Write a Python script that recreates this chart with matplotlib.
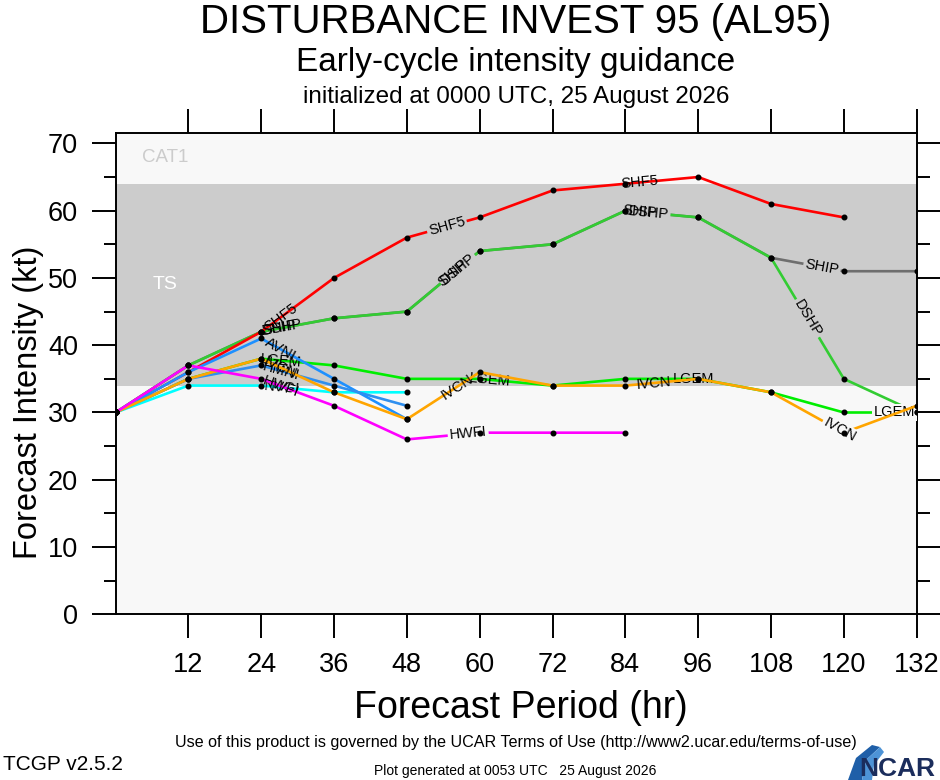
import numpy as np
import matplotlib
matplotlib.use("Agg")
import matplotlib.pyplot as plt
from matplotlib.patches import Polygon

# ---------------- data ----------------
hours = [0, 12, 24, 36, 48, 60, 72, 84, 96, 108, 120, 132]
x_ticks = [12, 24, 36, 48, 60, 72, 84, 96, 108, 120, 132]
y_ticks = [0, 10, 20, 30, 40, 50, 60, 70]

ship = [30, 37, 42, 44, 45, 54, 55, 60, 59, 53, 51, 51]
dshp = [30, 37, 42, 44, 45, 54, 55, 60, 59, 53, 35, 30]
shf5 = [30, 36, 42, 50, 56, 59, 63, 64, 65, 61, 59]
lgem = [30, 35, 38, 37, 35, 35, 34, 35, 35, 33, 30, 30]
nvgi = [30, 34, 34, 33, 33]
avni = [30, 36, 41, 35, 29]
hmni = [30, 35, 37, 34, 31]
ivcn = [30, 35, 38, 33, 29, 36, 34, 34, 35, 33, 27, 31]
hwfi = [30, 37, 35, 31, 26, 27, 27, 27]

series = [
    ("SHIP", ship, "#6e6e6e"),
    ("DSHP", dshp, "#33cc33"),
    ("SHF5", shf5, "#ff0000"),
    ("LGEM", lgem, "#00ee00"),
    ("NVGI", nvgi, "#00ffff"),
    ("AVNI", avni, "#1e90ff"),
    ("HMNI", hmni, "#2f8fef"),
    ("IVCN", ivcn, "#ffa500"),
    ("HWFI", hwfi, "#ff00ff"),
]

# hours at which each model's name is written on its line
label_hours = {
    "SHIP": [27.0, 55.6, 86.4, 116.4],
    "DSHP": [27.5, 56.4, 87.8, 114.0],
    "SHF5": [27.2, 54.6, 86.4],
    "LGEM": [27.2, 61.6, 95.2, 128.3],
    "NVGI": [27.4],
    "AVNI": [27.2],
    "HMNI": [27.3],
    "IVCN": [27.2, 56.3, 88.6, 119.3],
    "HWFI": [27.3, 58.1],
}

ts_thresh = 34
cat1_thresh = 64
ymax = 71.5

# ---------------- figure ----------------
plt.rcParams["font.family"] = ["Liberation Sans", "DejaVu Sans"]
fig = plt.figure(figsize=(9.4, 7.8), dpi=100)
ax = fig.add_axes([0.1229, 0.2124, 0.8523, 0.6167])

light = "#f8f8f8"
dark = "#cccccc"
ax.axhspan(0, ts_thresh, color=light, lw=0, zorder=0)
ax.axhspan(ts_thresh, cat1_thresh, color=dark, lw=0, zorder=0)
ax.axhspan(cat1_thresh, ymax, color=light, lw=0, zorder=0)
ax.text(8.2, 67.9, "CAT1", color="#cccccc", fontsize=13.5, ha="center", va="center", zorder=1)
ax.text(8.2, 49.0, "TS", color="white", fontsize=14, ha="center", va="center", zorder=1)

for i, (name, vals, col) in enumerate(series):
    z = 2 + i
    h = hours[:len(vals)]
    ax.plot(h, vals, color=col, lw=1.9, zorder=z, solid_capstyle="round")
    ax.plot(h, vals, ls="none", marker="o", ms=3.3, mfc="black", mec="black", zorder=20)
    for hx in label_hours[name]:
        k = int(np.searchsorted(h, hx)) - 1
        k = max(0, min(k, len(h) - 2))
        dx = h[k + 1] - h[k]
        dy = vals[k + 1] - vals[k]
        yv = vals[k] + dy * (hx - h[k]) / dx
        ang = np.degrees(np.arctan2(dy, dx))
        cluster = hx < 30
        near_edge = abs(yv - ts_thresh) < 1.3 or abs(yv - cat1_thresh) < 1.3
        shared = name == "SHIP" and hx < 100   # SHIP coincides with DSHP here
        bbox = None
        tz = z + 0.5
        if shared:
            tz = 15
        elif not cluster and not near_edge:
            fc = dark if ts_thresh <= yv < cat1_thresh else light
            bbox = dict(boxstyle="square,pad=0.12", fc=fc, ec="none")
        ax.text(hx, yv, name, fontsize=10.5, color="black", ha="center", va="center",
                rotation=ang, transform_rotates_text=True, rotation_mode="anchor",
                bbox=bbox, zorder=tz)

ax.set_xlim(0, 132)
ax.set_ylim(0, ymax)
ax.set_xticks(x_ticks)
ax.set_xticklabels([str(t) for t in x_ticks])
ax.set_yticks(y_ticks)
ax.set_yticks(np.arange(5, 70, 10), minor=True)
ax.tick_params(axis="both", which="major", direction="out", length=17, width=1.4,
               top=True, right=True, labelsize=19.5)
ax.tick_params(axis="x", which="major", pad=10)
ax.tick_params(axis="y", which="major", pad=10)
ax.tick_params(axis="y", which="minor", direction="out", length=9, width=1.4,
               left=True, right=True)
for s in ax.spines.values():
    s.set_linewidth(1.4)

fig.text(521 / 940, 1 - 708 / 780, "Forecast Period (hr)", fontsize=27,
         ha="center", va="center")
fig.text(0.030, 1 - 402 / 780, "Forecast Intensity (kt)", fontsize=23.5,
         rotation=90, ha="center", va="center")

cx = 0.549
fig.text(cx, 1 - 22 / 780, "DISTURBANCE INVEST 95 (AL95)", fontsize=29, ha="center", va="center")
fig.text(cx, 1 - 63 / 780, "Early-cycle intensity guidance", fontsize=24, ha="center", va="center")
fig.text(cx, 1 - 97 / 780, "initialized at 0000 UTC, 25 August 2026", fontsize=17.5,
         ha="center", va="center")

narrow = ["Liberation Sans Narrow", "Liberation Sans", "DejaVu Sans"]
fig.text(516 / 940, 1 - 743 / 780,
         "Use of this product is governed by the UCAR Terms of Use (http://www2.ucar.edu/terms-of-use)",
         fontsize=11.6, ha="center", va="center", family=narrow)
fig.text(515 / 940, 1 - 771 / 780, "Plot generated at 0053 UTC   25 August 2026",
         fontsize=10, ha="center", va="center", family=narrow)
fig.text(3 / 940, 1 - 765 / 780, "TCGP v2.5.2", fontsize=15, ha="left", va="center",
         family=narrow)

# NCAR logo (approximation)
def fp(px, py):
    return (px / 940, 1 - py / 780)

swoosh = [
    ([fp(848, 780), fp(856, 758), fp(872, 745), fp(880, 747), fp(866, 760), fp(862, 780)], "#1f5fa8"),
    ([fp(862, 780), fp(866, 760), fp(880, 747), fp(884, 752), fp(874, 765), fp(872, 780)], "#4d93d6"),
]
for pts, c in swoosh:
    fig.patches.append(Polygon(pts, closed=True, fc=c, ec="none", transform=fig.transFigure))
fig.text(935 / 940, 1 - 769 / 780, "NCAR", fontsize=19, fontweight="bold", color="#1b2d5c",
         ha="right", va="center", family=narrow)

fig.savefig("out.png", dpi=100, facecolor="white")
